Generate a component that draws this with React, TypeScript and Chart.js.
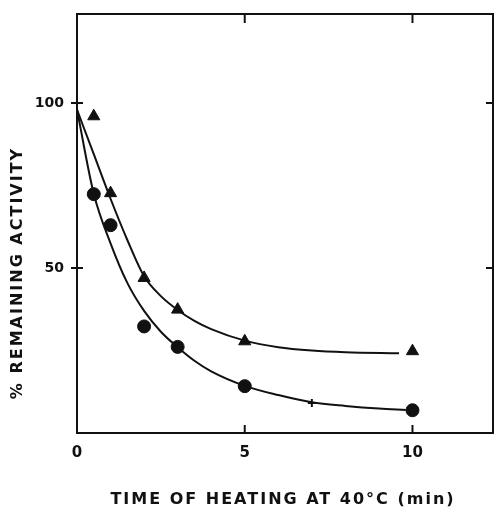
import React, { useEffect, useRef } from "react";
import { Chart, registerables } from "chart.js";

Chart.register(...registerables);

// Measured points
const triX = [0.5, 1, 2, 3, 5, 10];
const triY = [96, 72.7, 47, 37.4, 27.8, 24.8];
const circX = [0.5, 1, 2, 3, 5, 10];
const circY = [72.4, 63, 32.3, 26.1, 14.2, 6.9];
const crossX = [7];
const crossY = [9.1];

// Fitted curves
const triCurveX = [0, 0.5, 1, 1.5, 2, 2.5, 3, 3.5, 4, 5, 6, 7, 8, 9.6];
const triCurveY = [98, 84.5, 71, 58.5, 47.5, 41.5, 37.3, 34, 31.5, 28, 26, 25, 24.5, 24.2];
const circCurveX = [0, 0.5, 1, 1.5, 2, 2.5, 3, 3.5, 4, 5, 6, 7, 8, 9, 9.8];
const circCurveY = [98, 72.5, 57.5, 45.5, 37, 30.7, 26, 21.9, 18.7, 14.3, 11.5, 9.3, 8.2, 7.4, 7];

const xTicks = [0, 5, 10];
const yTicks = [50, 100];
const xTitle = "TIME OF HEATING AT 40°C (min)";
const yTitle = "% REMAINING ACTIVITY";

const pts = (xs: number[], ys: number[]) => xs.map((x, i) => ({ x, y: ys[i] }));

const framePlugin = {
  id: "frame",
  afterDraw(chart: any) {
    const { ctx, chartArea: a, scales } = chart;
    const xs = scales.x;
    const ys = scales.y;
    ctx.save();
    ctx.strokeStyle = "#111";
    ctx.lineWidth = 2;
    ctx.strokeRect(a.left, a.top, a.right - a.left, a.bottom - a.top);
    ctx.beginPath();
    for (const v of xTicks) {
      if (v === 0) continue;
      const px = xs.getPixelForValue(v);
      ctx.moveTo(px, a.bottom);
      ctx.lineTo(px, a.bottom - 8);
      ctx.moveTo(px, a.top);
      ctx.lineTo(px, a.top + 9);
    }
    for (const v of yTicks) {
      const py = ys.getPixelForValue(v);
      ctx.moveTo(a.left - 6, py);
      ctx.lineTo(a.left + 6, py);
      ctx.moveTo(a.right, py);
      ctx.lineTo(a.right - 7, py);
    }
    ctx.stroke();
    // titles
    ctx.fillStyle = "#111";
    ctx.font = "bold 16px 'DejaVu Sans'";
    (ctx as any).letterSpacing = "2px";
    ctx.textAlign = "center";
    ctx.textBaseline = "middle";
    ctx.fillText(xTitle, 283, 500);
    ctx.translate(18, 273);
    ctx.rotate(-Math.PI / 2);
    ctx.fillText(yTitle, 0, 0);
    ctx.restore();
  },
};

export default function App() {
  const ref = useRef<HTMLCanvasElement>(null);
  useEffect(() => {
    const chart = new Chart(ref.current!, {
      type: "scatter",
      data: {
        datasets: [
          {
            type: "line",
            data: pts(triCurveX, triCurveY),
            borderColor: "#111",
            borderWidth: 2,
            pointRadius: 0,
            cubicInterpolationMode: "monotone",
            fill: false,
          } as any,
          {
            type: "line",
            data: pts(circCurveX, circCurveY),
            borderColor: "#111",
            borderWidth: 2,
            pointRadius: 0,
            cubicInterpolationMode: "monotone",
            fill: false,
          } as any,
          {
            data: pts(triX, triY),
            pointStyle: "triangle",
            pointRadius: 7,
            backgroundColor: "#111",
            borderColor: "#111",
          },
          {
            data: pts(circX, circY),
            pointStyle: "circle",
            pointRadius: 6.5,
            backgroundColor: "#111",
            borderColor: "#111",
          },
          {
            data: pts(crossX, crossY),
            pointStyle: "cross",
            pointRadius: 4,
            borderWidth: 2,
            backgroundColor: "#111",
            borderColor: "#111",
          },
        ],
      },
      options: {
        animation: false,
        responsive: false,
        layout: { autoPadding: false, padding: { top: 14, right: 1, left: 0, bottom: 0 } },
        plugins: { legend: { display: false }, tooltip: { enabled: false } },
        scales: {
          x: {
            type: "linear",
            min: 0,
            max: 12.4,
            grid: { display: false },
            border: { display: false },
            afterBuildTicks: (s: any) => {
              s.ticks = xTicks.map((v) => ({ value: v }));
            },
            afterFit: (s: any) => {
              s.height = 77;
            },
            ticks: {
              color: "#111",
              padding: 3,
              font: { family: "'DejaVu Sans'", size: 15, weight: "bold" },
            },
          },
          y: {
            type: "linear",
            min: 0,
            max: 127,
            grid: { display: false },
            border: { display: false },
            afterBuildTicks: (s: any) => {
              s.ticks = yTicks.map((v) => ({ value: v }));
            },
            afterFit: (s: any) => {
              s.width = 77;
            },
            ticks: {
              color: "#111",
              padding: 5,
              font: { family: "'DejaVu Sans'", size: 14, weight: "bold" },
            },
          },
        },
      },
      plugins: [framePlugin],
    });
    return () => chart.destroy();
  }, []);
  return (
    <div style={{ position: "fixed", left: 0, top: 0, width: 494, height: 510, background: "#fff" }}>
      <canvas ref={ref} width={494} height={510} />
    </div>
  );
}
